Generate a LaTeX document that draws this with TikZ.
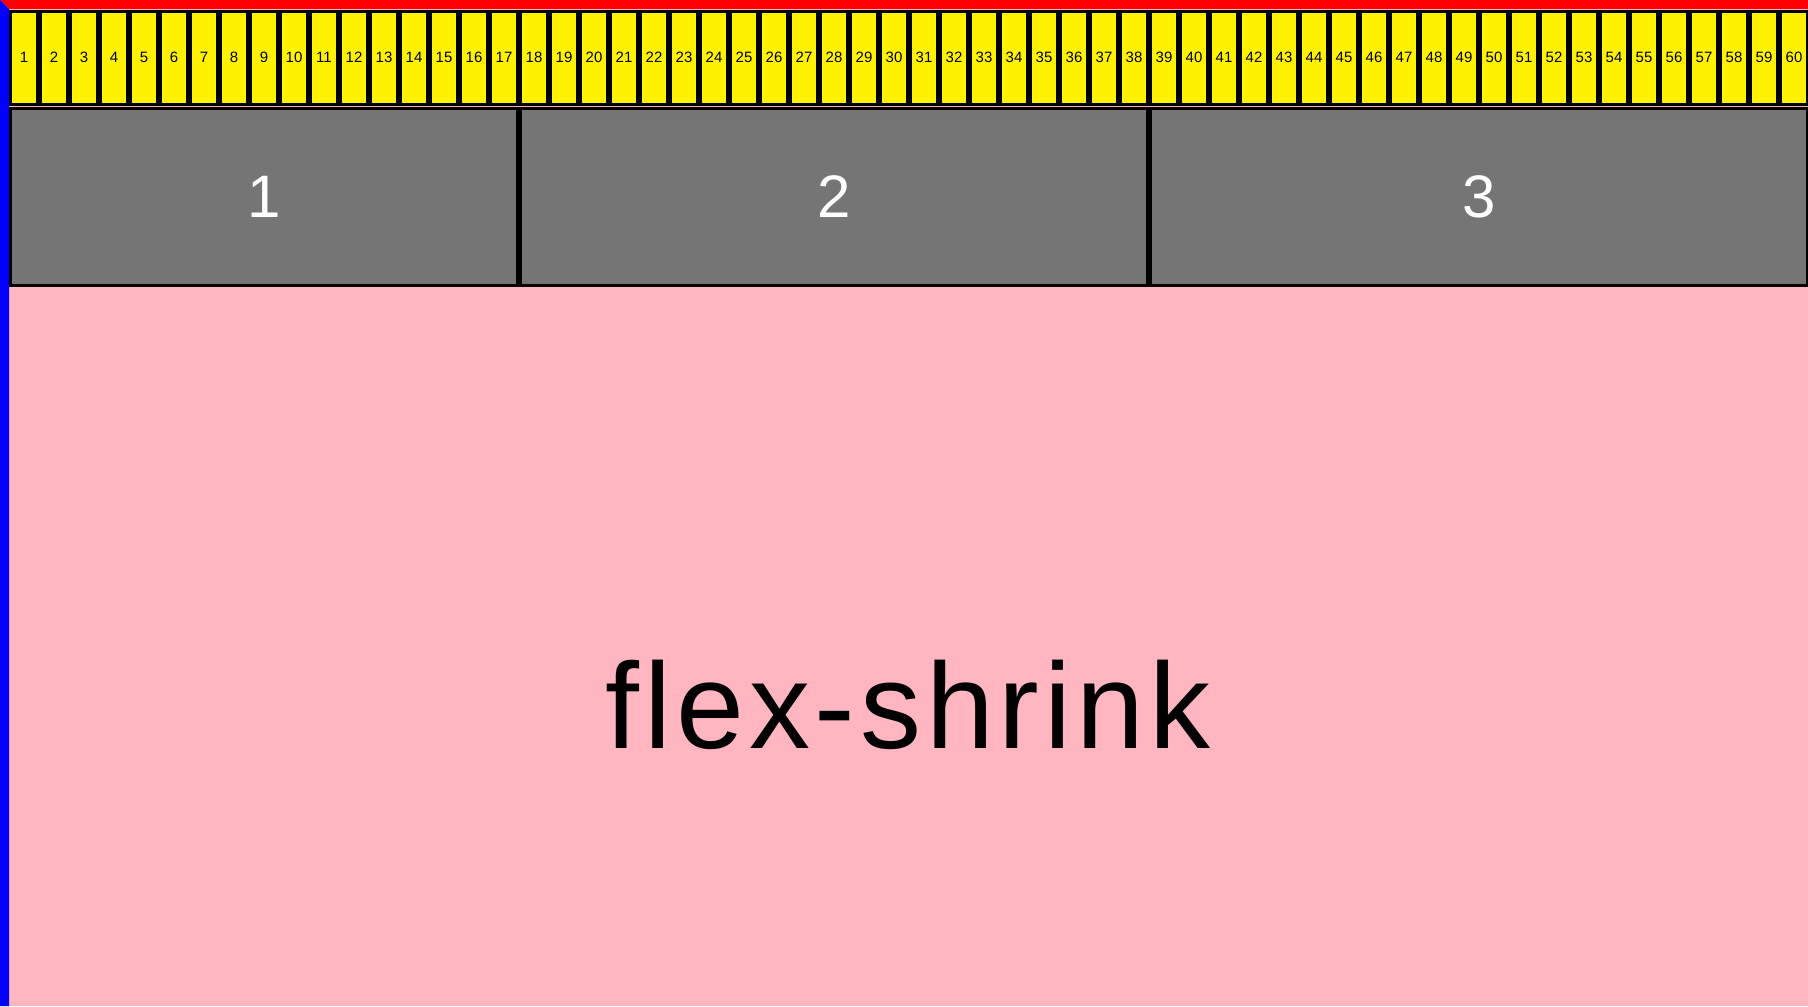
\documentclass[tikz,border=0pt]{standalone}
\usepackage{fontspec}
\setmainfont{Liberation Sans}
\usetikzlibrary{positioning}

\definecolor{boxgray}{RGB}{117,117,117}
\definecolor{bgpink}{RGB}{255,182,193}

\begin{document}
\begin{tikzpicture}[
			x=0.5pt, y=-0.5pt,
			item/.style={rectangle, draw=black, line width=1.5pt, fill=yellow, minimum width=13.5pt, minimum height=46.5pt, inner sep=0pt, font=\fontsize{7.5}{9}\selectfont},
			flexbox/.style={rectangle, draw=black, line width=1.5pt, fill=boxgray, minimum height=88.65pt, inner sep=0pt, text=white, font=\fontsize{30}{36}\selectfont}
		]
		\useasboundingbox (0,0) rectangle (1808,1006);
		% container
		\fill[bgpink] (9,9) rectangle (1808,1006);
		\fill[red] (0,0) -- (1808,0) -- (1808,9) -- (9,9) -- cycle;
		\fill[blue] (0,0) -- (9,9) -- (9,1006) -- (0,1006) -- cycle;

		% row of items
		\foreach \i in {1,...,60}
			\node[item] (item\i) at ({24+30*(\i-1)},57.7) {\i};

		% shrinking boxes
		\node[flexbox, minimum width=253.5pt] (box1) at (264,197) {1};
		\node[flexbox, minimum width=313.5pt] (box2) at (834,197) {2};
		\node[flexbox, minimum width=328.5pt] (box3) at (1479,197) {3};

		\node[font=\fontsize{61}{70}\selectfont\addfontfeatures{LetterSpace=4}, anchor=base] (label) at (908,748) {flex-shrink};
	\end{tikzpicture}
\end{document}
